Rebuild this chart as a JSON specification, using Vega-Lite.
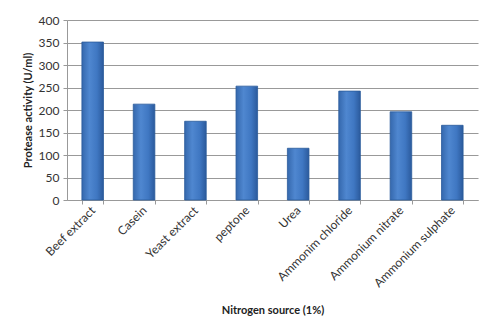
{
  "$schema": "https://vega.github.io/schema/vega-lite/v6.json",
  "width": 411,
  "height": 180,
  "autosize": {"type": "none"},
  "padding": {"left": 67, "top": 20, "right": 19, "bottom": 134},
  "background": "white",
  "config": {
    "font": "Lato",
    "view": {"stroke": null},
    "axis": {"labelColor": "#333", "labelFont": "Lato", "titleFont": "Lato", "titleColor": "#222"}
  },
  "data": {"values": [
    {"source": "Beef extract", "activity": 351},
    {"source": "Casein", "activity": 213},
    {"source": "Yeast extract", "activity": 175},
    {"source": "peptone", "activity": 253},
    {"source": "Urea", "activity": 115},
    {"source": "Ammonim chloride", "activity": 242},
    {"source": "Ammonium nitrate", "activity": 196},
    {"source": "Ammonium sulphate", "activity": 166}
  ]},
  "mark": {
    "type": "bar",
    "stroke": "#2a5a9a",
    "strokeWidth": 0.8,
    "color": {
      "gradient": "linear", "x1": 0, "x2": 1, "y1": 0, "y2": 0,
      "stops": [
        {"offset": 0, "color": "#3568ad"},
        {"offset": 0.35, "color": "#4f87d0"},
        {"offset": 0.7, "color": "#3f77c2"},
        {"offset": 1, "color": "#2b5a9c"}
      ]
    }
  },
  "encoding": {
    "x": {
      "field": "source", "type": "nominal", "sort": null,
      "scale": {"paddingInner": 0.58, "paddingOuter": 0.29},
      "axis": {
        "title": "Nitrogen source (1%)",
        "titleFontSize": 11, "titleFontWeight": "bold", "titlePadding": 16,
        "labelAngle": -45, "labelAlign": "right", "labelBaseline": "middle",
        "labelFontSize": 12, "labelPadding": 4,
        "tickBand": "extent", "tickColor": "#999", "tickSize": 4,
        "domainColor": "#999", "grid": false
      }
    },
    "y": {
      "field": "activity", "type": "quantitative",
      "scale": {"domain": [0, 400]},
      "axis": {
        "title": "Protease activity (U/ml)",
        "titleFontSize": 11, "titleFontWeight": "bold", "titlePadding": 5,
        "values": [0, 50, 100, 150, 200, 250, 300, 350, 400],
        "labelFontSize": 12, "labelPadding": 4,
        "tickColor": "#999", "tickSize": 4,
        "domainColor": "#999",
        "gridColor": "#999", "gridWidth": 1
      }
    }
  }
}
